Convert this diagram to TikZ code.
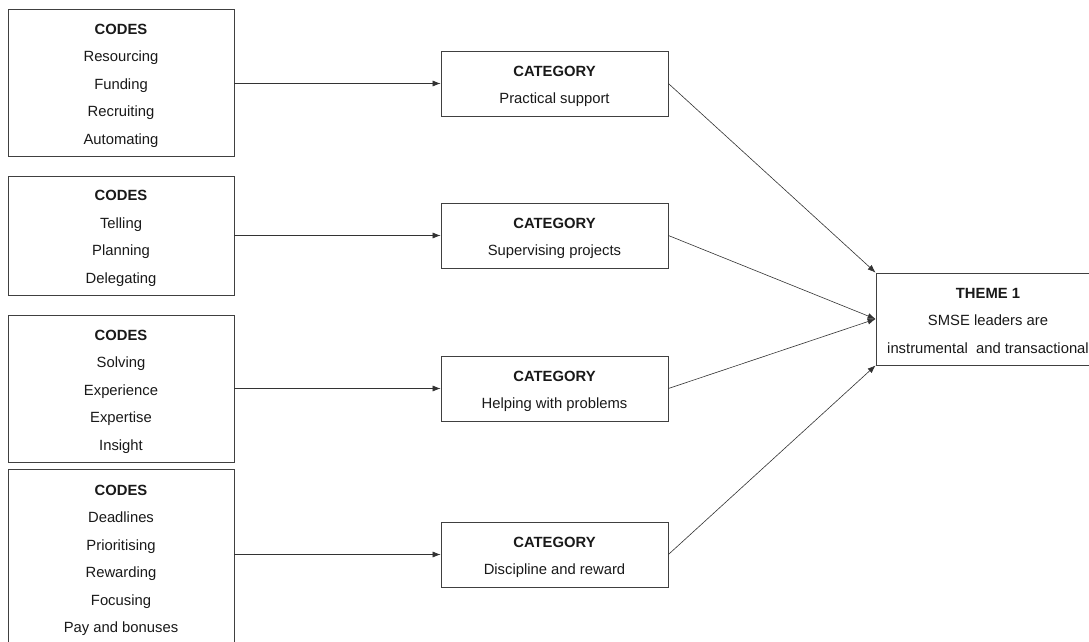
\documentclass[tikz,border=0pt]{standalone}
\usepackage{fontspec}
\setmainfont{Liberation Sans}
\usetikzlibrary{arrows.meta}
% raises the first line so the text block sits a little lower in its box
\newcommand{\toprule}{\rule{0pt}{16.5pt}}
\begin{document}
\begin{tikzpicture}[x=1pt,y=-1pt,
  box/.style={draw=black!75, line width=0.8pt, rectangle, align=center, inner sep=0pt,
    font=\fontsize{14.8}{27.5}\selectfont, text=black!90},
  codebox/.style={box, minimum width=226pt},
  catbox/.style={box, minimum width=227pt, minimum height=65pt},
  link/.style={draw=black!80, line width=0.6pt, -{Latex[length=8pt,width=6pt]}}]
\clip (0,0) rectangle (1089,642);
\fill[white] (0,0) rectangle (1089,642);

% code groups
\node[codebox, minimum height=147pt] (c1) at (121,82.5)
  {\toprule\textbf{CODES}\\Resourcing\\Funding\\Recruiting\\Automating};
\node[codebox, minimum height=119pt] (c2) at (121,235.5)
  {\toprule\textbf{CODES}\\Telling\\Planning\\Delegating};
\node[codebox, minimum height=147pt] (c3) at (121,388.5)
  {\toprule\textbf{CODES}\\Solving\\Experience\\Expertise\\Insight};
\node[codebox, minimum height=177pt] (c4) at (121,557.5)
  {\toprule\textbf{CODES}\\Deadlines\\Prioritising\\Rewarding\\Focusing\\Pay and bonuses};

% categories
\node[catbox] (k1) at (554.5,83.5) {\toprule\textbf{CATEGORY}\\Practical support};
\node[catbox] (k2) at (554.5,235.5) {\toprule\textbf{CATEGORY}\\Supervising projects};
\node[catbox] (k3) at (554.5,388.5) {\toprule\textbf{CATEGORY}\\Helping with problems};
\node[catbox] (k4) at (554.5,554.5) {\toprule\textbf{CATEGORY}\\Discipline and reward};

% theme
\node[box, minimum width=224pt, minimum height=92pt] (t) at (988,319)
  {\rule{0pt}{14pt}\textbf{THEME 1}\\SMSE leaders are\\instrumental\ \ and transactional};

% codes to categories
\draw[link] (k1.west -| c1.east) -- (k1.west);
\draw[link] (k2.west -| c2.east) -- (k2.west);
\draw[link] (k3.west -| c3.east) -- (k3.west);
\draw[link] (k4.west -| c4.east) -- (k4.west);

% categories to theme
\draw[link] (k1.east) -- (t.north west);
\draw[link] (k2.east) -- (t.west);
\draw[link] (k3.east) -- (t.west);
\draw[link] (k4.east) -- (t.south west);
\end{tikzpicture}
\end{document}
